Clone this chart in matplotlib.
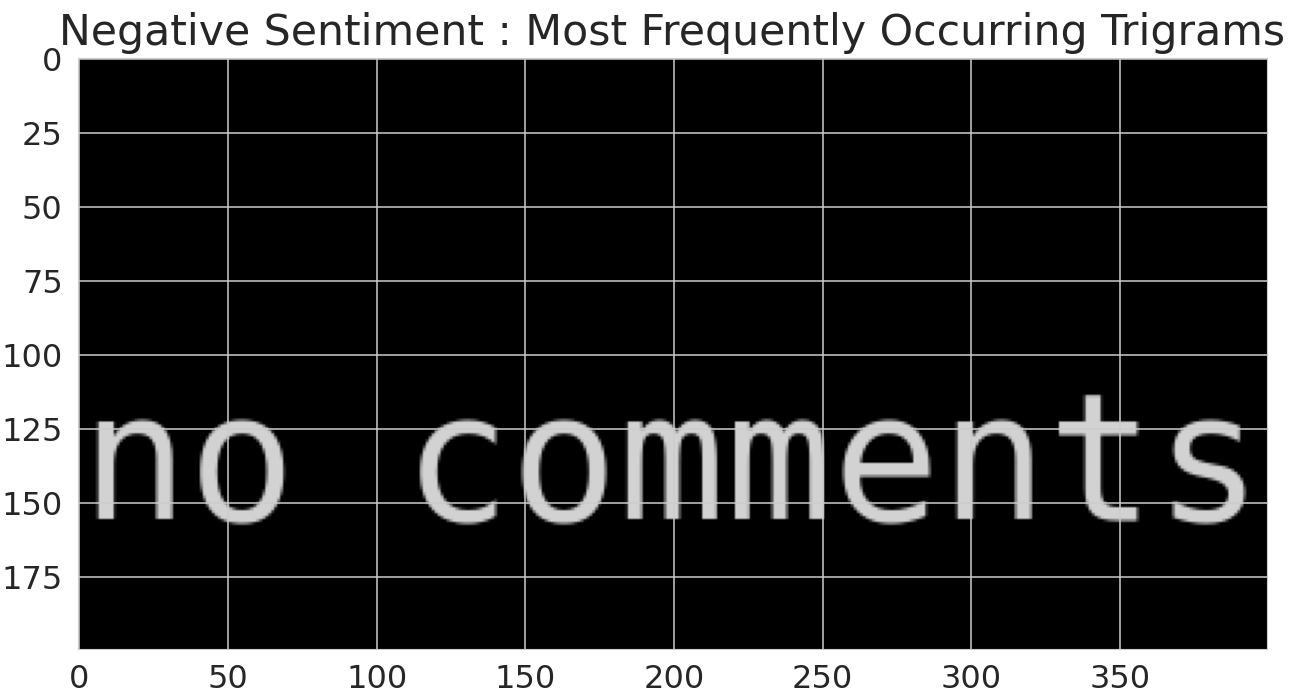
import numpy as np
import matplotlib
matplotlib.use("Agg")
import matplotlib.pyplot as plt
import seaborn as sns
from matplotlib.figure import Figure
from matplotlib.backends.backend_agg import FigureCanvasAgg

# =========================
# DATA (word cloud content)
# =========================
TITLE = "Negative Sentiment : Most Frequently Occurring Trigrams"
WORDS = ["no comments"]
WORD_COLORS = ["#d2d2d2"]
WORD_SIZES = [60]            # font size in image pixels
WORD_POS = [(1.4, 156)]      # (x, baseline y) in image pixels
IMG_W, IMG_H = 400, 200
XTICKS = [0, 50, 100, 150, 200, 250, 300, 350]
YTICKS = [0, 25, 50, 75, 100, 125, 150, 175]


def render_cloud(words, colors, sizes, positions, w, h):
    # draw the words into an offscreen w x h bitmap, like a wordcloud image
    f = Figure(figsize=(w / 72, h / 72), dpi=72, facecolor="black")
    canvas = FigureCanvasAgg(f)
    for word, col, size, (x, y) in zip(words, colors, sizes, positions):
        f.text(x / w, 1 - y / h, word, color=col, fontsize=size,
               family="DejaVu Sans Mono", ha="left", va="baseline")
    canvas.draw()
    arr = np.asarray(canvas.buffer_rgba())[:, :, :3].copy()
    return arr


img = render_cloud(WORDS, WORD_COLORS, WORD_SIZES, WORD_POS, IMG_W, IMG_H)

sns.set_style("whitegrid")

fig = plt.figure(figsize=(12.95, 6.97), dpi=100)
ax = fig.add_axes([78 / 1295, 1 - 649 / 697, 1189 / 1295, 591 / 697])
ax.imshow(img, aspect="auto")
ax.set_xticks(XTICKS)
ax.set_yticks(YTICKS)
ax.tick_params(labelsize=23, colors=".15", pad=7.5)
ax.set_title(TITLE, fontsize=30.7, color=".15", pad=9)
ax.grid(True, color=".8", linewidth=1.1)

fig.savefig("out.png", dpi=100)
